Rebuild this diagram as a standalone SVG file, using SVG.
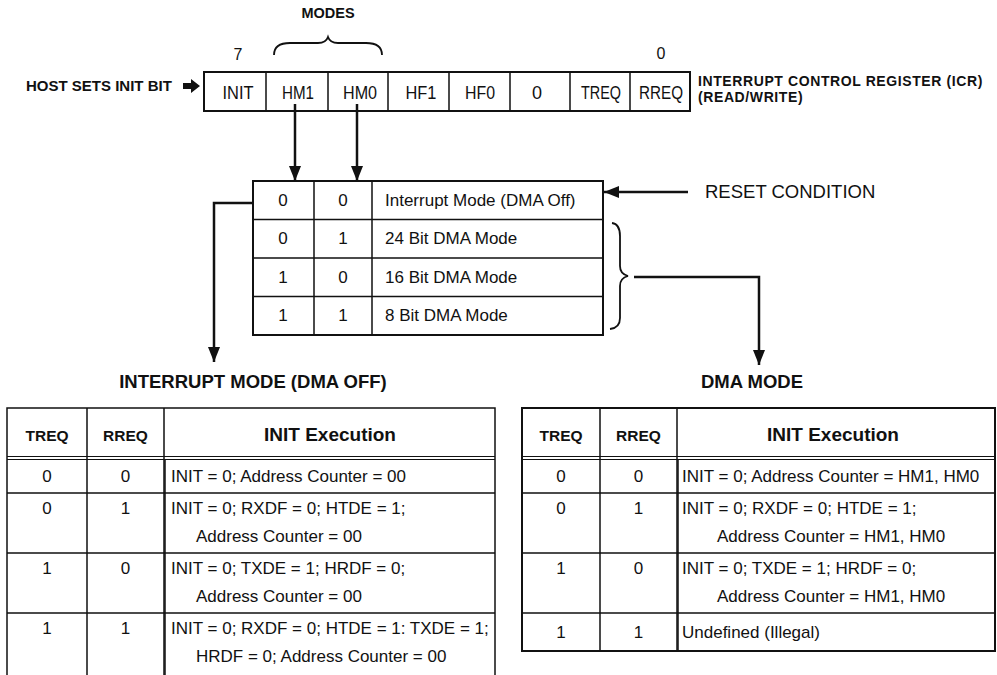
<svg xmlns="http://www.w3.org/2000/svg" width="997" height="675" viewBox="0 0 997 675">
<style>
text{font-family:"Liberation Sans",Arial,Helvetica,sans-serif;fill:#111}
.b{font-weight:bold}
.c{text-anchor:middle}
.reg{font-size:18px}
.mt{font-size:17px}
.hd{font-size:15.5px;font-weight:bold}
.hx{font-size:19px;font-weight:bold}
.dt{font-size:17px}
.ttl{font-size:18.5px;font-weight:bold}
.frame{fill:#fff;stroke:#111;stroke-width:2}
.ln{stroke:#111;stroke-width:1.5;fill:none}
.thin{stroke:#111;stroke-width:1.2;fill:none}
.conn{stroke:#111;stroke-width:2.5;fill:none}
.brace{stroke:#111;stroke-width:1.8;fill:none}
</style>
<defs>
<marker id="ah" markerUnits="userSpaceOnUse" markerWidth="16" markerHeight="12" viewBox="0 0 16 12" refX="15" refY="6" orient="auto">
<path d="M0,0 L15,6 L0,12 Z" fill="#111"/>
</marker>
</defs>
<rect width="997" height="675" fill="#fff"/>

<g id="host-label">
<text class="b" x="26" y="91" font-size="15">HOST SETS INIT BIT</text>
<polygon points="183,83 191,83 191,79 200,86 191,93 191,89 183,89" fill="#111"/>
</g>

<g id="modes-label">
<text class="b c" x="328" y="18" font-size="14.5">MODES</text>
<path class="brace" d="M274,55 Q274,43 290,43 L318,43 Q326,43 328,37 Q330,43 338,43 L366,43 Q382,43 382,55"/>
</g>

<g id="register">
<text class="c" x="238" y="60" font-size="16">7</text>
<text class="c" x="661" y="59" font-size="16">0</text>
<rect class="frame" x="204" y="72" width="486" height="39" stroke-width="2.5"/>
<path class="ln" stroke-width="2" d="M266,72V111M328,72V111M388,72V111M449,72V111M510,72V111M570,72V111M630,72V111"/>
<text class="reg c" x="238" y="99" textLength="31" lengthAdjust="spacingAndGlyphs">INIT</text>
<text class="reg c" x="298" y="99" textLength="32" lengthAdjust="spacingAndGlyphs">HM1</text>
<text class="reg c" x="360" y="99" textLength="34" lengthAdjust="spacingAndGlyphs">HM0</text>
<text class="reg c" x="421" y="99" textLength="31" lengthAdjust="spacingAndGlyphs">HF1</text>
<text class="reg c" x="480" y="99" textLength="30" lengthAdjust="spacingAndGlyphs">HF0</text>
<text class="reg c" x="537" y="99">0</text>
<text class="reg c" x="601" y="99" textLength="40" lengthAdjust="spacingAndGlyphs">TREQ</text>
<text class="reg c" x="661" y="99" textLength="44" lengthAdjust="spacingAndGlyphs">RREQ</text>
<text class="b" x="698" y="86" font-size="14" letter-spacing="0.6">INTERRUPT CONTROL REGISTER (ICR)</text>
<text class="b" x="698" y="102" font-size="14" letter-spacing="0.6">(READ/WRITE)</text>
</g>

<g id="modes-table">
<rect class="frame" x="253" y="181" width="350" height="154"/>
<path class="ln" d="M314,181V335M372,181V335M253,219.5H603M253,258H603M253,296.5H603"/>
<text class="mt c" x="283" y="206">0</text>
<text class="mt c" x="343" y="206">0</text>
<text class="mt" x="385" y="206">Interrupt Mode (DMA Off)</text>
<text class="mt c" x="283" y="244">0</text>
<text class="mt c" x="343" y="244">1</text>
<text class="mt" x="385" y="244">24 Bit DMA Mode</text>
<text class="mt c" x="283" y="283">1</text>
<text class="mt c" x="343" y="283">0</text>
<text class="mt" x="385" y="283">16 Bit DMA Mode</text>
<text class="mt c" x="283" y="321">1</text>
<text class="mt c" x="343" y="321">1</text>
<text class="mt" x="385" y="321">8 Bit DMA Mode</text>
<path class="brace" d="M612,223 Q620,224 620,236 L620,266 Q620,274 628,276 Q620,278 620,286 L620,318 Q620,328 610,329"/>
</g>

<g id="reset-label">
<text x="705" y="198" font-size="18.5">RESET CONDITION</text>
</g>

<g id="connectors">
<path class="conn" d="M295,104V181" marker-end="url(#ah)"/>
<path class="conn" d="M357,104V181" marker-end="url(#ah)"/>
<path class="conn" stroke-width="1.8" d="M688,192H604" marker-end="url(#ah)"/>
<path class="conn" d="M253,203H214V362" marker-end="url(#ah)"/>
<path class="conn" d="M634,277H759V365" marker-end="url(#ah)"/>
</g>

<g id="interrupt-table">
<text class="ttl c" x="253" y="388">INTERRUPT MODE (DMA OFF)</text>
<path class="ln" stroke-width="2" d="M7,677V408H495V677"/>
<path class="ln" d="M87,408V677M164,408V677"/>
<path class="ln" stroke-width="2.5" d="M165,460V677"/>
<path class="thin" d="M7,456.5H495M7,459.5H495"/>
<path class="ln" d="M7,493H495M7,553H495M7,613H495"/>
<text class="hd c" x="47" y="441">TREQ</text>
<text class="hd c" x="125.5" y="441">RREQ</text>
<text class="hx c" x="330" y="441">INIT Execution</text>
<text class="dt c" x="47" y="482">0</text>
<text class="dt c" x="125.5" y="482">0</text>
<text class="dt" x="171" y="482">INIT = 0; Address Counter = 00</text>
<text class="dt c" x="47" y="514">0</text>
<text class="dt c" x="125.5" y="514">1</text>
<text class="dt" x="171" y="514">INIT = 0; RXDF = 0; HTDE = 1;</text>
<text class="dt" x="196" y="542">Address Counter = 00</text>
<text class="dt c" x="47" y="574">1</text>
<text class="dt c" x="125.5" y="574">0</text>
<text class="dt" x="171" y="574">INIT = 0; TXDE = 1; HRDF = 0;</text>
<text class="dt" x="196" y="602">Address Counter = 00</text>
<text class="dt c" x="47" y="634">1</text>
<text class="dt c" x="125.5" y="634">1</text>
<text class="dt" x="171" y="634">INIT = 0; RXDF = 0; HTDE = 1: TXDE = 1;</text>
<text class="dt" x="196" y="662">HRDF = 0; Address Counter = 00</text>
</g>

<g id="dma-table">
<text class="ttl c" x="752" y="388">DMA MODE</text>
<rect class="frame" x="522" y="408" width="473" height="243"/>
<path class="ln" d="M600,408V651M677,408V651"/>
<path class="ln" stroke-width="2.5" d="M678,460V651"/>
<path class="thin" d="M522,456.5H995M522,459.5H995"/>
<path class="ln" d="M522,493H995M522,553H995M522,613H995"/>
<text class="hd c" x="561" y="441">TREQ</text>
<text class="hd c" x="638.5" y="441">RREQ</text>
<text class="hx c" x="833" y="441">INIT Execution</text>
<text class="dt c" x="561" y="482">0</text>
<text class="dt c" x="638.5" y="482">0</text>
<text class="dt" x="682" y="482">INIT = 0; Address Counter = HM1, HM0</text>
<text class="dt c" x="561" y="514">0</text>
<text class="dt c" x="638.5" y="514">1</text>
<text class="dt" x="682" y="514">INIT = 0; RXDF = 0; HTDE = 1;</text>
<text class="dt" x="717" y="542">Address Counter = HM1, HM0</text>
<text class="dt c" x="561" y="574">1</text>
<text class="dt c" x="638.5" y="574">0</text>
<text class="dt" x="682" y="574">INIT = 0; TXDE = 1; HRDF = 0;</text>
<text class="dt" x="717" y="602">Address Counter = HM1, HM0</text>
<text class="dt c" x="561" y="638">1</text>
<text class="dt c" x="638.5" y="638">1</text>
<text class="dt" x="682" y="638">Undefined (Illegal)</text>
</g>
</svg>
